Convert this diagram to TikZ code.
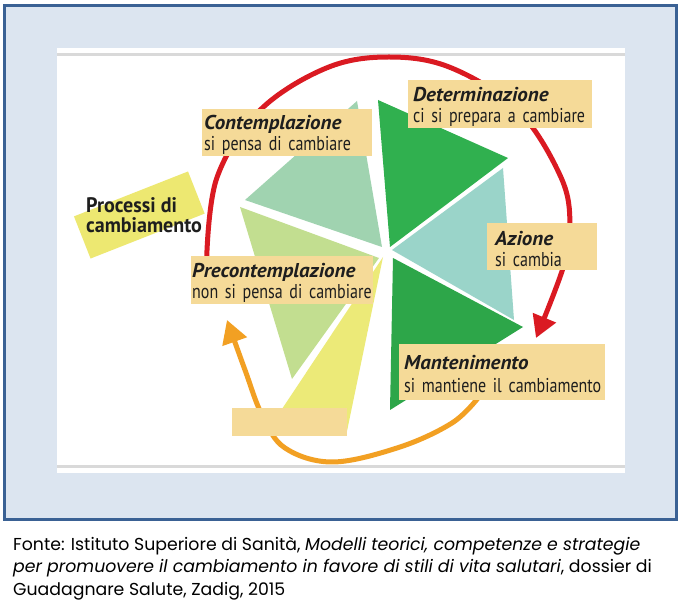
\documentclass[tikz,border=0pt]{standalone}
\usepackage{fontspec}
\usetikzlibrary{arrows.meta}
\newfontfamily\labf[FakeStretch=0.8,WordSpace=0.7]{PT Sans}
\newfontfamily\titf[FakeStretch=1.05]{PT Sans}
\newfontfamily\procf[FakeStretch=0.955]{PT Sans}
\newfontfamily\capf{Poppins}
\definecolor{framebg}{HTML}{DCE5F0}
\definecolor{frameblue}{HTML}{3A6194}
\definecolor{boxc}{HTML}{F5DA98}
\definecolor{procc}{HTML}{EDE871}
\definecolor{wcont}{HTML}{A0D3B0}
\definecolor{wprec}{HTML}{C2DE90}
\definecolor{wyell}{HTML}{ECEA78}
\definecolor{wdet}{HTML}{30B04F}
\definecolor{wazi}{HTML}{9AD4C9}
\definecolor{wman}{HTML}{2DA649}
\definecolor{redc}{HTML}{DA1A22}
\definecolor{orac}{HTML}{F2A023}
\definecolor{greyl}{HTML}{D9D9D9}
\definecolor{txt}{HTML}{1E1E1E}
\newcommand\tit[1]{\mbox{\titf\bfseries\itshape #1}}
\newcommand\sub[1]{\mbox{#1}}
\begin{document}
\begin{tikzpicture}[x=1pt,y=-1pt,
  lbl/.style 2 args={fill=boxc, anchor=north west, inner xsep=#1, inner ysep=0pt,
    align=left, text width=#2, text=txt,
    font=\labf\fontsize{20}{21}\selectfont},
  cycarrow/.style={line width=5pt, line cap=butt}]
\useasboundingbox (0,0) rectangle (678,601);
% frame and panel
\draw[line width=3pt, draw=frameblue, fill=framebg] (4.5,5.5) rectangle (676,520);
\fill[white] (57,48) rectangle (625,473.5);
\fill[greyl] (57,53.5) rectangle (625,56);
\fill[greyl] (57,465.5) rectangle (625,468);
% wedges
\fill[wcont] (245,200) -- (357,101) -- (382,247) -- cycle;
\fill[wprec] (240,207) -- (379,258) -- (292,379) -- cycle;
\fill[wyell] (383,257) -- (280,412) -- (346,436) -- cycle;
\fill[wdet] (378,100) -- (508,158) -- (390,247) -- cycle;
\fill[wazi] (392,250) -- (503,168) -- (514,320) -- cycle;
\fill[wman] (393,258) -- (523,327) -- (390,410) -- cycle;
% cycle arrows
\coordinate (rs) at (206.7,258);
\coordinate (re) at (536,338);
\coordinate (os) at (478,398);
\coordinate (oe) at (227,320);
\draw[cycarrow, redc, -{Triangle[width=24pt,length=22pt]}]
  plot[smooth, tension=0.6] coordinates {(rs) (217,177.4) (259.6,110.6) (326.4,68) (389,57) (451.6,68) (518.4,110.6) (561,177.4) (570,225) (563,268) (re)};
\draw[cycarrow, orac, -{Triangle[width=25pt,length=23pt]}]
  plot[smooth, tension=0.6] coordinates {(os) (452,423) (400,447) (333,462) (285,448) (262,415) (245,370) (oe)};
% processi
\node[fill=procc, rotate=21.5, minimum width=122.6pt, minimum height=45.3pt, inner sep=0pt] (proc) at (139.3,215) {};
\node[anchor=north west, inner sep=0pt, align=left, text=txt,
  font=\procf\fontsize{21}{20.5}\selectfont\bfseries] (proctext) at (86,196)
  {\rule{0pt}{16pt}Processi di\\cambiamento};
% labels
\node[lbl={2pt}{166pt}] (cont) at (202,109)
  {\rule{0pt}{20pt}\tit{Contemplazione}\\\sub{si pensa di cambiare}\rule[-6pt]{0pt}{6pt}};
\node[lbl={5pt}{174pt}] (det) at (408,80)
  {\rule{0pt}{21pt}\tit{Determinazione}\\\sub{ci si prepara a cambiare}\rule[-6pt]{0pt}{6pt}};
\node[lbl={8pt}{94pt}] (azi) at (487,223)
  {\rule{0pt}{22pt}\tit{Azione}\\\sub{si cambia}\rule[-4pt]{0pt}{4pt}};
\node[lbl={5pt}{196pt}] (man) at (399,344)
  {\rule{0pt}{25pt}\tit{Mantenimento}\\[2pt]\sub{si mantiene il cambiamento}\rule[-8pt]{0pt}{8pt}};
\node[lbl={1pt}{180pt}] (prec) at (191,256)
  {\rule{0pt}{21pt}\tit{Precontemplazione}\\\sub{non si pensa di cambiare}\rule[-5.5pt]{0pt}{5.5pt}};
\node[fill=boxc, anchor=north west, inner sep=0pt, minimum width=115pt, minimum height=28pt] (ric) at (232,408) {};
% caption
\node[anchor=north west, inner sep=0pt, align=left, font=\capf\fontsize{17.3}{22.5}\selectfont] (cap) at (13,536)
  {\rule{0pt}{14pt}Fonte: Istituto Superiore di Sanità, \textit{Modelli teorici, competenze e strategie}\\
   \textit{per promuovere il cambiamento in favore di stili di vita salutari}, dossier di\\
   Guadagnare Salute, Zadig, 2015};
\end{tikzpicture}
\end{document}
